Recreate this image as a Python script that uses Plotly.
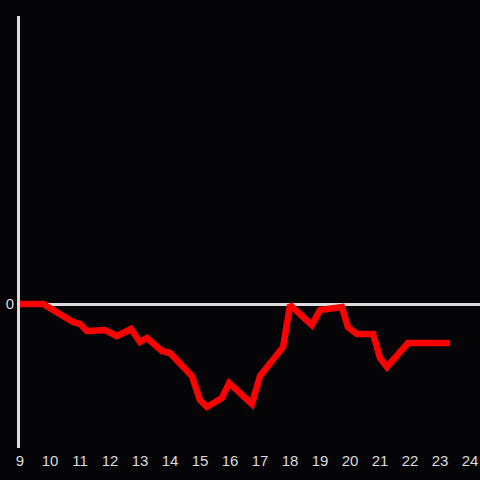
import plotly.graph_objects as go

hours = [9.0, 9.77, 10.77, 11.0, 11.23, 11.83, 12.23, 12.7, 13.0, 13.23, 13.73, 14.0,
         14.73, 15.0, 15.23, 15.73, 15.97, 16.73, 17.0, 17.77, 18.0, 18.73, 19.0,
         19.73, 19.93, 20.23, 20.77, 21.0, 21.23, 21.83, 21.93, 23.33]
values = [0, 0, -18, -20, -27, -26, -32, -25, -38, -34, -47, -49,
          -72, -96, -103, -94, -79, -100, -72, -43, -1, -21, -6,
          -3, -23, -30, -30, -54, -63, -41, -39, -39]
x_ticks = list(range(9, 25))
y_ticks = [0]

bg = "#050407"
axis_col = "#dcdcdc"

fig = go.Figure()
fig.add_trace(go.Scatter(x=hours, y=values, mode="lines",
                         line=dict(color="#ff0000", width=6.5), hoverinfo="skip"))
fig.update_layout(
    width=480, height=480,
    margin=dict(l=20, r=0, t=16, b=32),
    paper_bgcolor=bg, plot_bgcolor=bg,
    showlegend=False,
    font=dict(family="Liberation Sans, Arial, sans-serif", size=15, color=axis_col),
    xaxis=dict(range=[9, 24.333], tickvals=x_ticks, ticktext=[str(t) for t in x_ticks],
               showgrid=False, zeroline=False, showline=False, ticks="",
               ticklabelstandoff=2),
    yaxis=dict(range=[-144, 288], tickvals=y_ticks, ticktext=["0"],
               showgrid=False, zeroline=True, zerolinecolor=axis_col, zerolinewidth=3,
               showline=True, linecolor=axis_col, linewidth=3, ticks=""),
)
fig.write_html("out.html", config={"displayModeBar": False},
               post_script="document.body.style.margin='0';document.body.style.background='" + bg + "';")
